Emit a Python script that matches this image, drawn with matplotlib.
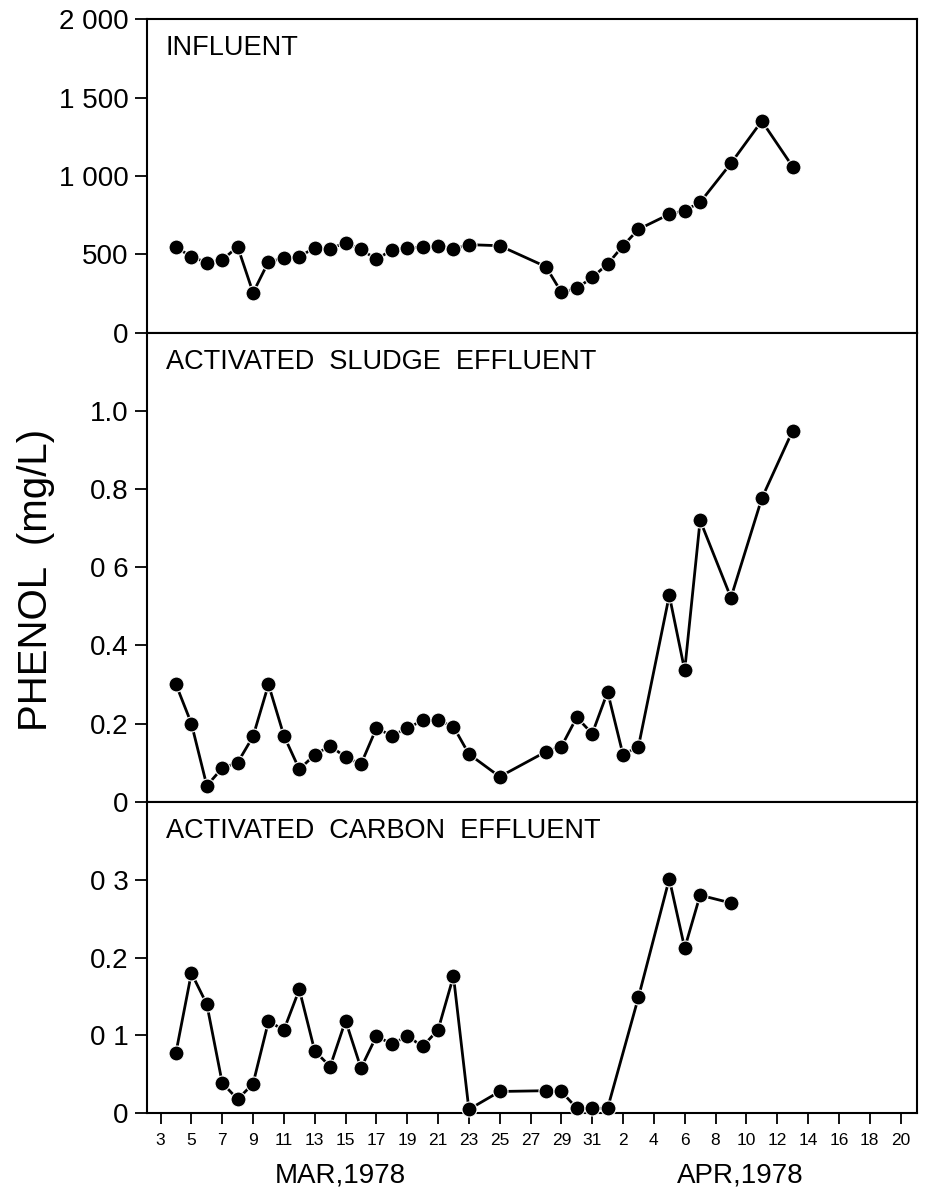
import matplotlib
matplotlib.use("Agg")
import matplotlib.pyplot as plt

plt.rcParams["font.family"] = ["Liberation Sans", "DejaVu Sans"]

# Day index: March d -> d, April d -> 31 + d
influent_days = [4, 5, 6, 7, 8, 9, 10, 11, 12, 13, 14, 15, 16, 17, 18, 19, 20, 21, 22, 23,
                 25, 28, 29, 30, 31, 32, 33, 34, 36, 37, 38, 40, 42, 44]
influent = [545, 485, 447, 464, 549, 255, 453, 475, 485, 542, 536, 574, 532, 468, 528, 539,
            549, 553, 534, 562, 555, 421, 258, 283, 353, 438, 555, 660, 756, 779, 832, 1081,
            1351, 1060]

sludge_days = [4, 5, 6, 7, 8, 9, 10, 11, 12, 13, 14, 15, 16, 17, 18, 19, 20, 21, 22, 23,
               25, 28, 29, 30, 31, 32, 33, 34, 36, 37, 38, 40, 42, 44]
sludge = [0.30, 0.20, 0.041, 0.086, 0.10, 0.167, 0.30, 0.169, 0.083, 0.12, 0.143, 0.114,
          0.096, 0.188, 0.169, 0.188, 0.208, 0.208, 0.192, 0.122, 0.064, 0.128, 0.141,
          0.216, 0.174, 0.281, 0.12, 0.141, 0.528, 0.336, 0.72, 0.522, 0.776, 0.949]

carbon_days = [4, 5, 6, 7, 8, 9, 10, 11, 12, 13, 14, 15, 16, 17, 18, 19, 20, 21, 22, 23,
               25, 28, 29, 30, 31, 32, 34, 36, 37, 38, 40]
carbon = [0.078, 0.180, 0.14, 0.039, 0.018, 0.038, 0.118, 0.107, 0.159, 0.080, 0.060,
          0.119, 0.058, 0.099, 0.089, 0.099, 0.086, 0.107, 0.176, 0.005, 0.028, 0.029,
          0.028, 0.0065, 0.0065, 0.0065, 0.149, 0.301, 0.212, 0.280, 0.270]

x_tick_days = list(range(3, 32, 2)) + list(range(33, 52, 2))
x_tick_labels = [str(d) for d in range(3, 32, 2)] + [str(d) for d in range(2, 21, 2)]

top_ticks = [0, 500, 1000, 1500, 2000]
top_labels = ["0", "500", "1 000", "1 500", "2 000"]
mid_ticks = [0, 0.2, 0.4, 0.6, 0.8, 1.0]
mid_labels = ["0", "0.2", "0.4", "0 6", "0.8", "1.0"]
bot_ticks = [0, 0.1, 0.2, 0.3]
bot_labels = ["0", "0 1", "0.2", "0 3"]

titles = ["INFLUENT", "ACTIVATED  SLUDGE  EFFLUENT", "ACTIVATED  CARBON  EFFLUENT"]

W, H = 930, 1194
fig = plt.figure(figsize=(W / 100, H / 100), dpi=100)

left, right = 146.7, 916.7
rows = [(19.3, 332.7), (332.7, 801.7), (801.7, 1113.3)]
axes = []
for top, bottom in rows:
    ax = fig.add_axes([left / W, 1 - bottom / H, (right - left) / W, (bottom - top) / H])
    axes.append(ax)

series = [(influent_days, influent, (0, 2000), top_ticks, top_labels),
          (sludge_days, sludge, (0, 1.2), mid_ticks, mid_labels),
          (carbon_days, carbon, (0, 0.4), bot_ticks, bot_labels)]

for i, (ax, (xd, yd, ylim, yt, yl)) in enumerate(zip(axes, series)):
    ax.plot(xd, yd, color="black", lw=2.0, marker="o", ms=10.8,
            markerfacecolor="black", markeredgecolor="white", markeredgewidth=0.8,
            solid_joinstyle="round", clip_on=False, zorder=3)
    ax.set_xlim(2.1, 52.05)
    ax.set_ylim(*ylim)
    ax.set_yticks(yt)
    ax.set_yticklabels(yl)
    ax.tick_params(axis="y", direction="out", length=9, width=1.3, pad=4, labelsize=20)
    for s in ax.spines.values():
        s.set_linewidth(1.5)
    ax.annotate(titles[i], xy=(0, 1), xycoords="axes fraction", xytext=(19, -29),
                textcoords="offset pixels", ha="left", va="center", fontsize=19.5)
    if i < 2:
        ax.set_xticks([])
    else:
        ax.set_xticks(x_tick_days)
        ax.set_xticklabels(x_tick_labels)
        ax.tick_params(axis="x", direction="out", length=8, width=1.3, pad=6, labelsize=12.5)

fig.text(340 / W, 1 - 1176 / H, "MAR,1978", ha="center", va="center", fontsize=20)
fig.text(740 / W, 1 - 1176 / H, "APR,1978", ha="center", va="center", fontsize=20)
fig.text(36 / W, 1 - 580 / H, "PHENOL  (mg/L)", rotation=90, ha="center", va="center",
         fontsize=29)

fig.savefig("out.png", dpi=100, facecolor="white")
